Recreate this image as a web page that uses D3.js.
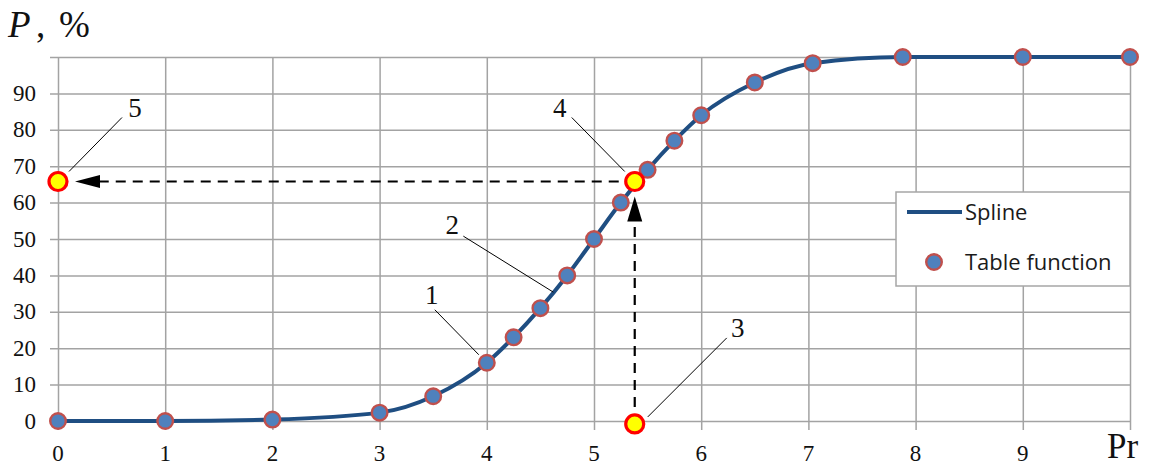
<!DOCTYPE html>
<html>
<head>
<meta charset="utf-8">
<script src="https://cdn.jsdelivr.net/npm/d3@7"></script>
<style>
  html, body { margin: 0; padding: 0; background: #fff; }
  svg { display: block; }
</style>
</head>
<body>
<svg id="chart" width="1155" height="466"></svg>
<script>
// Probit table: P(%) as a function of the probit value Pr
const prTable = [0, 1, 2, 3, 3.5, 4, 4.25, 4.5, 4.75, 5, 5.25, 5.5, 5.75, 6, 6.5, 7.04, 7.88, 9, 10];
const pTable  = [0, 0, 0.4, 2.3, 6.8, 16, 23, 31, 40, 50, 60, 69, 77, 84, 93, 98.3, 100, 100, 100];

// Worked example: reading P for a given Pr
const readPr = 5.38;
const readP = 65.8;
const startP = -0.8; // marker 3 sits just under the axis

const xTicks = [0, 1, 2, 3, 4, 5, 6, 7, 8, 9, 10];
const xTickLabels = ["0", "1", "2", "3", "4", "5", "6", "7", "8", "9", ""];
const yTicks = [0, 10, 20, 30, 40, 50, 60, 70, 80, 90, 100];
const yTickLabels = ["0", "10", "20", "30", "40", "50", "60", "70", "80", "90", ""];

const legendLabels = ["Spline", "Table function"];

const svg = d3.select("#chart");
const x = d3.scaleLinear().domain([0, 10]).range([58, 1130]);
const y = d3.scaleLinear().domain([0, 100]).range([421, 57]);

const gridColor = "#a3a3a3";
const splineColor = "#1f4e82";
const serif = "'Liberation Serif', 'Times New Roman', serif";

// Grid (axes drawn with full-length ticks)
const gx = svg.append("g").attr("transform", `translate(0,${y(100)})`)
  .call(d3.axisBottom(x).tickValues(xTicks).tickSize(y(0) - y(100) + 9).tickFormat(""));
gx.select(".domain").remove();
gx.selectAll(".tick line").attr("stroke", gridColor).attr("stroke-width", 1.5);

const gy = svg.append("g").attr("transform", `translate(${x(10)},0)`)
  .call(d3.axisLeft(y).tickValues(yTicks).tickSize(x(10) - x(0) + 8).tickFormat(""));
gy.select(".domain").remove();
gy.selectAll(".tick line").attr("stroke", gridColor).attr("stroke-width", 1.5);

// Tick labels
svg.append("g").selectAll("text").data(xTicks).join("text")
  .attr("x", d => x(d)).attr("y", 461)
  .attr("text-anchor", "middle")
  .style("font-family", serif).style("font-size", "23px").attr("fill", "#111")
  .text((d, i) => xTickLabels[i]);

svg.append("g").selectAll("text").data(yTicks).join("text")
  .attr("x", 36).attr("y", d => y(d))
  .attr("dy", "0.33em")
  .attr("text-anchor", "end")
  .style("font-family", serif).style("font-size", "23px").attr("fill", "#111")
  .text((d, i) => yTickLabels[i]);

// Axis titles
const yTitle = svg.append("text").attr("y", 37)
  .style("font-family", serif).style("font-size", "37px").attr("fill", "#111");
yTitle.append("tspan").attr("x", 8).style("font-style", "italic").text("P");
yTitle.append("tspan").attr("x", 36).text(",");
yTitle.append("tspan").attr("x", 59).text("%");

svg.append("text").attr("x", 1107).attr("y", 458)
  .style("font-family", serif).style("font-size", "35px").attr("fill", "#111")
  .text("Pr");

// Spline through the table
const tableData = prTable.map((d, i) => ({ pr: d, p: pTable[i] }));
const line = d3.line().x(d => x(d.pr)).y(d => y(d.p)).curve(d3.curveMonotoneX);
svg.append("path").datum(tableData)
  .attr("d", line).attr("fill", "none")
  .attr("stroke", splineColor).attr("stroke-width", 4).attr("stroke-linecap", "round");

// Table points
svg.append("g").selectAll("circle").data(tableData).join("circle")
  .attr("cx", d => x(d.pr)).attr("cy", d => y(d.p)).attr("r", 7.8)
  .attr("fill", "#4f81bd").attr("stroke", "#c0504d").attr("stroke-width", 2.4);

// Dashed reading arrows
const arrowG = svg.append("g");
const vx = x(readPr);
const vTip = y(readP) + 15;
arrowG.append("line")
  .attr("x1", vx).attr("x2", vx).attr("y1", y(startP) - 17).attr("y2", vTip + 25)
  .attr("stroke", "#000").attr("stroke-width", 2.2).attr("stroke-dasharray", "10,7");
arrowG.append("path")
  .attr("d", `M${vx},${vTip} L${vx - 7.5},${vTip + 25} L${vx + 7.5},${vTip + 25} Z`)
  .attr("fill", "#000");

const hy = y(readP);
const hTip = x(0) + 17;
arrowG.append("line")
  .attr("x1", x(readPr) - 16).attr("x2", hTip + 25).attr("y1", hy).attr("y2", hy)
  .attr("stroke", "#000").attr("stroke-width", 2.2).attr("stroke-dasharray", "10,7");
arrowG.append("path")
  .attr("d", `M${hTip},${hy} L${hTip + 25},${hy - 6.5} L${hTip + 25},${hy + 6.5} Z`)
  .attr("fill", "#000");

// Highlighted reading points
const marks = [
  { pr: readPr, p: startP },
  { pr: readPr, p: readP },
  { pr: 0, p: readP }
];
svg.append("g").selectAll("circle").data(marks).join("circle")
  .attr("cx", d => x(d.pr)).attr("cy", d => y(d.p)).attr("r", 9)
  .attr("fill", "#ffff00").attr("stroke", "#ff0000").attr("stroke-width", 3.2);

// Numbered callouts: target in data units, offsets in pixels
const callouts = [
  { label: "1", pr: 4, p: 16, end: [-8, -8], start: [-52, -53], text: [-55, -68] },
  { label: "2", pr: 4.63, p: 35.4, end: [-1, 0], start: [-91, -56], text: [-102, -68] },
  { label: "3", pr: readPr, p: startP, end: [13, -7], start: [92, -86], text: [103, -96] },
  { label: "4", pr: readPr, p: readP, end: [-10, -10], start: [-63, -64], text: [-75, -74] },
  { label: "5", pr: 0, p: readP, end: [11, -10], start: [64, -64], text: [77, -74] }
];
const cg = svg.append("g").selectAll("g").data(callouts).join("g")
  .attr("transform", d => `translate(${x(d.pr)},${y(d.p)})`);
cg.append("line")
  .attr("x1", d => d.start[0]).attr("y1", d => d.start[1])
  .attr("x2", d => d.end[0]).attr("y2", d => d.end[1])
  .attr("stroke", "#000").attr("stroke-width", 1);
cg.append("text")
  .attr("x", d => d.text[0]).attr("y", d => d.text[1])
  .attr("dy", "0.35em").attr("text-anchor", "middle")
  .style("font-family", serif).style("font-size", "27px").attr("fill", "#111")
  .text(d => d.label);

// Legend
const lg = svg.append("g");
lg.append("rect").attr("x", 896).attr("y", 192).attr("width", 234).attr("height", 94)
  .attr("fill", "#fff").attr("stroke", "#a6a6a6").attr("stroke-width", 1.5);
lg.append("line").attr("x1", 907).attr("x2", 962).attr("y1", 212).attr("y2", 212)
  .attr("stroke", splineColor).attr("stroke-width", 4);
lg.append("circle").attr("cx", 934).attr("cy", 262).attr("r", 7.8)
  .attr("fill", "#4f81bd").attr("stroke", "#c0504d").attr("stroke-width", 2.4);
lg.selectAll("text").data(legendLabels).join("text")
  .attr("x", 965).attr("y", (d, i) => 212 + i * 50).attr("dy", "0.35em")
  .style("font-family", "'Open Sans', sans-serif").style("font-size", "22px").attr("fill", "#1a1a1a")
  .text(d => d);
</script>
</body>
</html>
